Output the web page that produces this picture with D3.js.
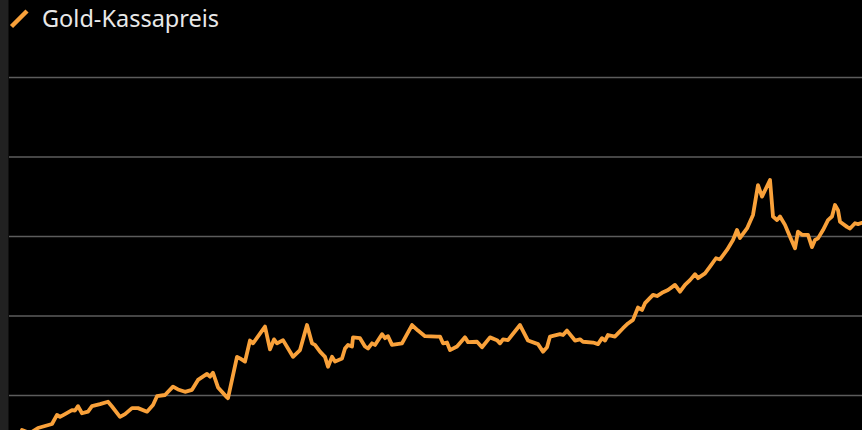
<!DOCTYPE html>
<html>
<head>
<meta charset="utf-8">
<script src="https://cdn.jsdelivr.net/npm/d3@7"></script>
<style>
  html, body { margin: 0; padding: 0; background: #000; }
  svg { display: block; }
</style>
</head>
<body>
<div id="chart"></div>
<script>
// Series label
const seriesName = "Gold-Kassapreis";
// Time position (relative units) and gold spot price (estimated units)
const periods = [2,10,18,25,32,37,40,45,52,55,58,62,68,72,80,88,92,100,105,112,118,127,133,137,145,153,158,165,172,178,187,190,193,198,207,208,217,220,225,230,233,245,250,254,257,263,273,280,287,292,295,300,305,308,312,315,322,325,328,332,333,340,345,348,352,355,362,365,368,372,382,392,398,405,417,420,423,427,430,437,445,448,457,462,470,477,480,483,488,500,508,518,523,527,530,540,543,547,555,560,563,573,578,582,585,588,595,598,603,608,613,618,622,625,633,637,642,648,655,660,665,670,675,678,685,690,696,700,707,713,717,720,727,733,738,742,750,753,757,760,765,770,775,778,782,788,792,795,798,803,808,812,815,818,820,827,830,835,838,842];
const prices = [912,904,917,922,927,950,945,952,962,961,972,954,958,972,977,983,971,945,952,967,967,958,975,997,1000,1021,1014,1008,1013,1038,1053,1046,1056,1019,994,992,1096,1092,1084,1137,1130,1172,1115,1140,1130,1138,1096,1113,1176,1130,1126,1109,1096,1071,1096,1084,1092,1117,1126,1122,1145,1143,1122,1117,1130,1126,1153,1143,1148,1126,1130,1176,1162,1148,1147,1147,1130,1132,1113,1122,1145,1133,1134,1120,1145,1138,1130,1140,1138,1176,1137,1128,1109,1120,1147,1153,1151,1162,1137,1140,1134,1132,1128,1143,1137,1151,1147,1155,1168,1180,1189,1220,1214,1231,1252,1249,1257,1264,1277,1260,1277,1289,1304,1294,1306,1323,1344,1341,1365,1390,1415,1395,1419,1453,1528,1499,1541,1449,1440,1449,1428,1398,1369,1411,1403,1403,1372,1390,1394,1415,1440,1449,1478,1465,1436,1423,1419,1432,1430,1433];
// Gridline values (labels not shown in the reference)
const gridValues = [1000, 1200, 1400, 1600, 1800];

const W = 862, H = 430;
const svg = d3.select("#chart").append("svg")
  .attr("width", W).attr("height", H)
  .style("background", "#000");

// left dark strip
svg.append("rect").attr("x", 0).attr("y", 0).attr("width", 8.5).attr("height", H).attr("fill", "#212121");

const x = d3.scaleLinear().domain([0, 842]).range([20, 862]);
const y = d3.scaleLinear().domain([1000, 1800]).range([395, 77]);

// gridlines via axis
const yAxis = d3.axisRight(y).tickValues(gridValues).tickSize(W - 9).tickFormat("");
const gAxis = svg.append("g").attr("transform", "translate(9,0)").call(yAxis);
gAxis.select(".domain").remove();
gAxis.selectAll(".tick line").attr("stroke", "#5c5c5c").attr("stroke-width", 1.6);

// line
const data = periods.map((p, i) => ({ p, v: prices[i] }));
const line = d3.line().x(d => x(d.p)).y(d => y(d.v)).curve(d3.curveLinear);
svg.append("path").datum(data)
  .attr("d", line)
  .attr("fill", "none")
  .attr("stroke", "#f9a13a")
  .attr("stroke-width", 3.8)
  .attr("stroke-linejoin", "round")
  .attr("stroke-linecap", "round");

// legend
const leg = svg.append("g");
leg.append("line").attr("x1", 11.5).attr("y1", 26.5).attr("x2", 27).attr("y2", 11)
  .attr("stroke", "#f9a13a").attr("stroke-width", 4.5).attr("stroke-linecap", "butt");
leg.append("text").attr("x", 42).attr("y", 27)
  .attr("fill", "#e8e8e8")
  .style("font-family", "'Noto Sans', 'Open Sans', sans-serif")
  .style("font-size", "23.5px")
  .text(seriesName);
</script>
</body>
</html>
